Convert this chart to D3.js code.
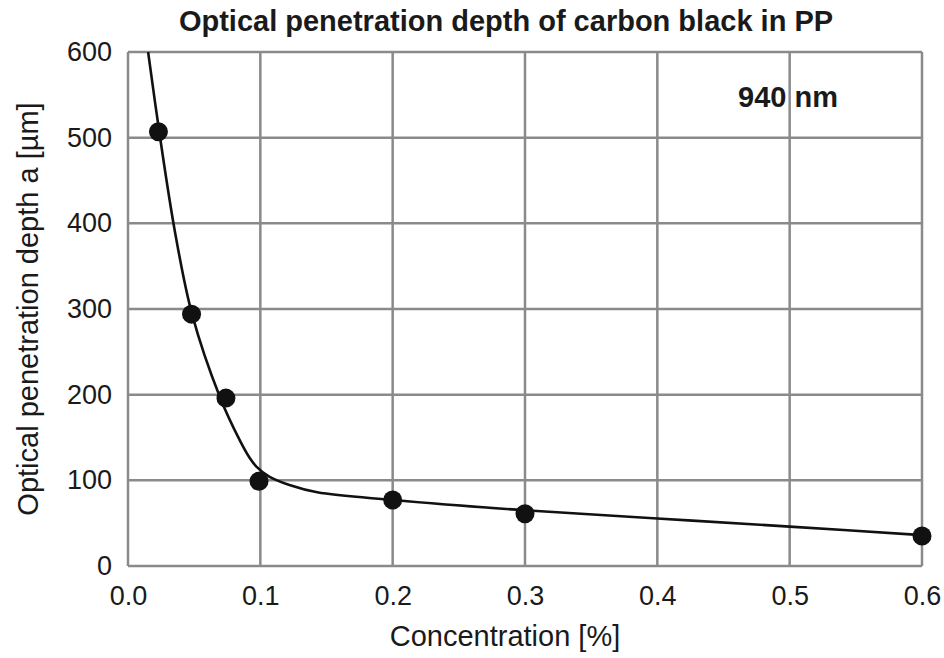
<!DOCTYPE html>
<html>
<head>
<meta charset="utf-8">
<script src="https://cdn.jsdelivr.net/npm/d3@7"></script>
<style>
  body { margin: 0; background: #fff; }
  svg text { font-family: "Liberation Sans", Arial, sans-serif; fill: #1a1a1a; }
</style>
</head>
<body>
<svg id="chart" width="944" height="658"></svg>
<script>
// measured points
let concentration = [0.023, 0.048, 0.074, 0.099, 0.2, 0.3, 0.6];
let depth = [507, 294, 196, 99, 77, 61, 35];

// fitted curve
let fitX = [0.0152, 0.0237, 0.0355, 0.0484, 0.0695, 0.0847, 0.092, 0.097, 0.107, 0.122, 0.143, 0.2, 0.3, 0.4, 0.5, 0.6];
let fitY = [600, 506, 390, 294, 197, 146, 126, 116, 104, 94.5, 86, 77, 65, 55.5, 46, 36];

let xTicks = [0, 0.1, 0.2, 0.3, 0.4, 0.5, 0.6];
let yTicks = [0, 100, 200, 300, 400, 500, 600];

let margin = {top: 52, right: 22, bottom: 92, left: 128};
let width = 944, height = 658;

let svg = d3.select("#chart");

let x = d3.scaleLinear().domain([0, 0.6]).range([margin.left, width - margin.right]);
let y = d3.scaleLinear().domain([0, 600]).range([height - margin.bottom, margin.top]);

// grid
let grid = svg.append("g").attr("stroke", "#8a8a8a").attr("stroke-width", 2.5);
grid.selectAll(".gx").data(xTicks).enter().append("line")
  .attr("x1", d => x(d)).attr("x2", d => x(d))
  .attr("y1", y(0)).attr("y2", y(600));
grid.selectAll(".gy").data(yTicks).enter().append("line")
  .attr("y1", d => y(d)).attr("y2", d => y(d))
  .attr("x1", x(0)).attr("x2", x(0.6));

// axes (labels only, the grid draws the frame)
let xAxis = svg.append("g")
  .attr("transform", `translate(0,${y(0)})`)
  .call(d3.axisBottom(x).tickValues(xTicks).tickFormat(d3.format(".1f")).tickSize(0).tickPadding(20));
let yAxis = svg.append("g")
  .attr("transform", `translate(${x(0)},0)`)
  .call(d3.axisLeft(y).tickValues(yTicks).tickSize(0).tickPadding(16));
[xAxis, yAxis].forEach(a => {
  a.select(".domain").remove();
  a.selectAll("text").attr("font-size", 27).attr("fill", "#1a1a1a")
    .attr("font-family", '"Liberation Sans", Arial, sans-serif');
});

// curve
let line = d3.line()
  .x((d, i) => x(fitX[i]))
  .y(d => y(d))
  .curve(d3.curveCatmullRom.alpha(0.5));
svg.append("path")
  .datum(fitY)
  .attr("d", line)
  .attr("fill", "none")
  .attr("stroke", "#111")
  .attr("stroke-width", 2.6);

// points
svg.selectAll(".pt").data(concentration).enter().append("circle")
  .attr("cx", d => x(d))
  .attr("cy", (d, i) => y(depth[i]))
  .attr("r", 9.5)
  .attr("fill", "#111");

// texts
svg.append("text")
  .attr("x", 506).attr("y", 31)
  .attr("text-anchor", "middle")
  .attr("font-size", 29).attr("font-weight", "bold")
  .text("Optical penetration depth of carbon black in PP");

svg.append("text")
  .attr("x", 788).attr("y", 107)
  .attr("text-anchor", "middle")
  .attr("font-size", 29).attr("font-weight", "bold")
  .text("940 nm");

svg.append("text")
  .attr("x", 505).attr("y", 646)
  .attr("text-anchor", "middle")
  .attr("font-size", 29)
  .text("Concentration [%]");

svg.append("text")
  .attr("transform", `translate(38,${(y(0) + y(600)) / 2}) rotate(-90)`)
  .attr("text-anchor", "middle")
  .attr("font-size", 29)
  .text("Optical penetration depth a [µm]");
</script>
</body>
</html>
